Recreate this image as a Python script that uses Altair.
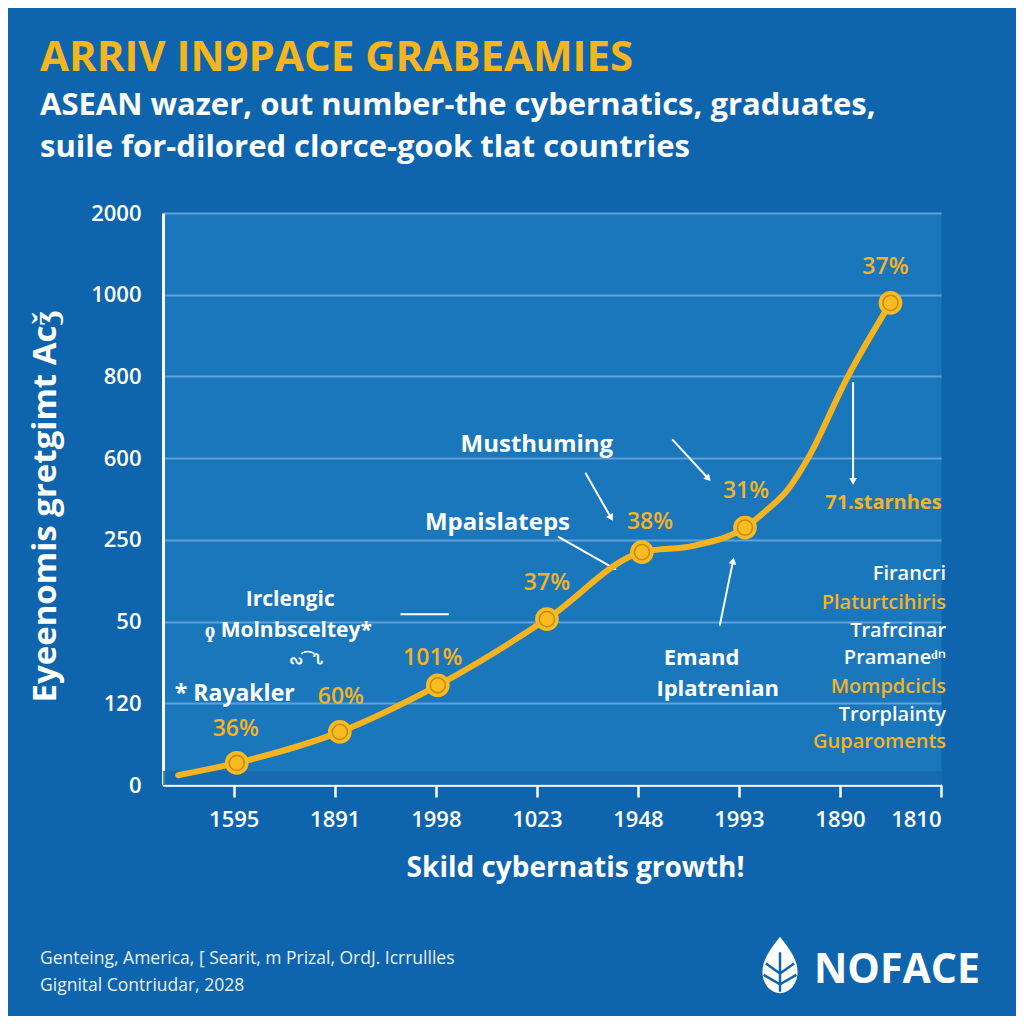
import math
import altair as alt
import pandas as pd

# ---------------- data ----------------
x_tick_labels = ["1595", "1891", "1998", "1023", "1948", "1993", "1890", "1810"]
y_tick_labels = ["0", "120", "50", "250", "600", "800", "1000", "2000"]

# line (x in tick-index units, y in gridline units)
line_x = [-0.55, 0.03, 1.05, 2.02, 3.10, 4.04, 4.56, 5.06, 5.28, 5.48, 5.68, 6.07, 6.50]
line_y = [0.12, 0.27, 0.65, 1.22, 2.03, 2.85, 2.93, 3.15, 3.37, 3.61, 3.99, 4.98, 5.90]

marker_x = [0.03, 1.05, 2.02, 3.10, 4.04, 5.06, 6.50]
marker_y = [0.27, 0.65, 1.22, 2.03, 2.85, 3.15, 5.90]

pct_labels = ["36%", "60%", "101%", "37%", "38%", "31%", "37%"]
pct_x = [0.02, 1.06, 1.97, 3.10, 4.12, 5.07, 6.45]
pct_y = [0.68, 1.08, 1.55, 2.47, 3.22, 3.60, 6.34]

note_labels = ["Musthuming", "Mpaislateps", "Irclengic", "ϙ Molnbsceltey*", "* Rayakler",
               "Emand", "Iplatrenian", "71.starnhes", "ᔓ⁀ᔐ"]
note_x = [3.00, 2.61, 0.56, 0.54, 0.01, 4.63, 4.79, 6.43, 0.72]
note_y = [4.16, 3.21, 2.26, 1.88, 1.11, 1.56, 1.18, 3.45, 1.53]
note_colors = ["#ffffff", "#ffffff", "#ffffff", "#ffffff", "#ffffff",
               "#ffffff", "#ffffff", "#f4b323", "#ffffff"]
note_sizes = [24, 24, 21, 21, 23, 22, 22, 20, 14]

list_labels = ["Firancri", "Platurtcihiris", "Trafrcinar", "Pramane\u1d48\u207f",
               "Mompdcicls", "Trorplainty", "Guparoments"]
list_y = [2.58, 2.23, 1.88, 1.55, 1.20, 0.86, 0.53]
list_colors = ["#ffffff", "#f4b323", "#ffffff", "#ffffff", "#f4b323", "#ffffff", "#f4b323"]
list_x_right = 7.05

arrow_x1 = [4.34, 3.48, 3.21, 4.81, 6.13]
arrow_y1 = [4.23, 3.82, 3.04, 1.95, 4.93]
arrow_x2 = [4.69, 3.73, 3.75, 4.94, 6.13]
arrow_y2 = [3.76, 3.28, 2.66, 2.73, 3.73]

dash_x1, dash_x2, dash_y = [1.65], [2.13], [2.09]

# ---------------- layout constants ----------------
W, H = 778, 572
X_DOM = [-0.70, 7.0]
Y_DOM = [0, 7]
PX_X = W / (X_DOM[1] - X_DOM[0])
PX_Y = H / (Y_DOM[1] - Y_DOM[0])

BG = "#0f65ad"
PLOT = "#1a77bc"
YELLOW = "#f5b51c"
LINE = "#f5b320"
GRID = "#5ea2d9"
FONT = "Open Sans"

x_expr = "[" + ",".join(f"'{t}'" for t in x_tick_labels) + "][datum.value]"
y_expr = "[" + ",".join(f"'{t}'" for t in y_tick_labels) + "][datum.value]"

xscale = alt.Scale(domain=X_DOM, nice=False, zero=False)
yscale = alt.Scale(domain=Y_DOM, nice=False, zero=False)

x_axis = alt.Axis(values=list(range(8)), labelExpr=x_expr, grid=False,
                  domainColor="white", domainWidth=2.5, tickColor="white",
                  tickWidth=2.5, tickSize=12, labelColor="white", labelFontSize=22,
                  labelFont=FONT, labelFontWeight=600, labelPadding=12,
                  title="Skild cybernatis growth!", titleFont=FONT, titleFontSize=28,
                  titleFontWeight="bold", titleColor="white", titleX=412, titleY=83,
                  titleAlign="center", titleBaseline="middle")
y_axis = alt.Axis(values=list(range(8)), labelExpr=y_expr, grid=True, gridColor=GRID,
                  gridWidth=2, domainColor="white", domainWidth=3, ticks=False,
                  labelColor="white", labelFontSize=22, labelFont=FONT,
                  labelFontWeight=600, labelPadding=22,
                  title="Eyeenomis gretgimt Acǯ", titleFont=FONT, titleFontSize=33,
                  titleFontWeight="bold", titleColor="white", titleAngle=270,
                  titleX=-118, titleY=293, titleAlign="center", titleBaseline="middle")

# ---------------- frames ----------------
line_df = pd.DataFrame({"x": line_x, "y": line_y})
mark_df = pd.DataFrame({"x": marker_x, "y": marker_y})
pct_df = pd.DataFrame({"x": pct_x, "y": pct_y, "t": pct_labels})
note_df = pd.DataFrame({"x": note_x, "y": note_y, "t": note_labels,
                        "c": note_colors, "s": note_sizes})
list_df = pd.DataFrame({"x": [list_x_right] * len(list_labels), "y": list_y,
                        "t": list_labels, "c": list_colors})
arr_df = pd.DataFrame({"x": arrow_x1, "y": arrow_y1, "x2": arrow_x2, "y2": arrow_y2})
arr_df["angle"] = [
    (math.degrees(math.atan2((b - a) * PX_X, (d - c) * PX_Y)) + 360) % 360
    for a, b, c, d in zip(arrow_x1, arrow_x2, arrow_y1, arrow_y2)
]
dash_df = pd.DataFrame({"x": dash_x1, "x2": dash_x2, "y": dash_y})
band_df = pd.DataFrame({"x": [X_DOM[0]], "x2": [X_DOM[1]], "y": [0.0], "y2": [0.17]})
one = pd.DataFrame({"a": [0]})


def X(f="x"):
    return alt.X(f"{f}:Q", scale=xscale)


def Y(f="y"):
    return alt.Y(f"{f}:Q", scale=yscale)


band = alt.Chart(band_df).mark_rect(color="#1567ab", opacity=0.8).encode(
    x=alt.X("x:Q", scale=xscale, axis=x_axis),
    x2="x2:Q",
    y=alt.Y("y:Q", scale=yscale, axis=y_axis),
    y2="y2:Q",
)

line = alt.Chart(line_df).mark_line(color=LINE, strokeWidth=6, interpolate="monotone",
                                    strokeCap="round").encode(x=X(), y=Y())

outer = alt.Chart(mark_df).mark_point(filled=True, color="#f9bb22", size=560,
                                      opacity=1).encode(x=X(), y=Y())
ring = alt.Chart(mark_df).mark_point(filled=False, color="#c98a10", size=230,
                                     strokeWidth=1.6, opacity=1).encode(x=X(), y=Y())

pct = alt.Chart(pct_df).mark_text(font=FONT, fontSize=23, fontWeight=600, color="#f4b323",
                                  baseline="middle", align="center").encode(
    x=X(), y=Y(), text="t:N")

notes = alt.Chart(note_df).mark_text(font=FONT, fontWeight="bold", baseline="middle",
                                     align="center").encode(
    x=X(), y=Y(), text="t:N",
    color=alt.Color("c:N", scale=None),
    size=alt.Size("s:Q", scale=None))

lst = alt.Chart(list_df).mark_text(font=FONT, fontWeight=600, fontSize=20,
                                   baseline="middle", align="right").encode(
    x=X(), y=Y(), text="t:N", color=alt.Color("c:N", scale=None))

arrows = alt.Chart(arr_df).mark_rule(color="white", strokeWidth=2).encode(
    x=X(), y=Y(), x2="x2:Q", y2="y2:Q")
heads = alt.Chart(arr_df).mark_point(shape="triangle", filled=True, color="white",
                                     size=60, opacity=1).encode(
    x=X("x2"), y=Y("y2"), angle=alt.Angle("angle:Q", scale=None))
dash = alt.Chart(dash_df).mark_rule(color="white", strokeWidth=2).encode(
    x=X(), x2="x2:Q", y=Y())

title = alt.Chart(one).mark_text(text="ARRIV IN9PACE GRABEAMIES", font=FONT, fontSize=42,
                                 fontWeight="bold", color=YELLOW, align="left",
                                 baseline="alphabetic").encode(
    x=alt.value(-123), y=alt.value(-142))
sub1 = alt.Chart(one).mark_text(text="ASEAN wazer, out number-the cybernatics, graduates,",
                                font=FONT, fontSize=31, fontWeight="bold", color="white",
                                align="left", baseline="alphabetic").encode(
    x=alt.value(-123), y=alt.value(-98))
sub2 = alt.Chart(one).mark_text(text="suile for-dilored clorce-gook tlat countries",
                                font=FONT, fontSize=31, fontWeight="bold", color="white",
                                align="left", baseline="alphabetic").encode(
    x=alt.value(-123), y=alt.value(-56))
foot1 = alt.Chart(one).mark_text(text="Genteing, America, [ Searit, m Prizal, OrdJ. Icrrullles",
                                 font=FONT, fontSize=17.5, color="#e8f0f8", align="left",
                                 baseline="alphabetic").encode(
    x=alt.value(-123), y=alt.value(751))
foot2 = alt.Chart(one).mark_text(text="Gignital Contriudar, 2028", font=FONT, fontSize=17.5,
                                 color="#e8f0f8", align="left", baseline="alphabetic").encode(
    x=alt.value(-123), y=alt.value(778))
brand = alt.Chart(one).mark_text(text="NOFACE", font=FONT, fontSize=41, fontWeight="bold",
                                 color="white", align="left", baseline="alphabetic").encode(
    x=alt.value(651), y=alt.value(770))
LEAF = ("M0,-1 C0.35,-0.55 0.62,-0.2 0.62,0.25 C0.62,0.7 0.3,1 0,1 "
        "C-0.3,1 -0.62,0.7 -0.62,0.25 C-0.62,-0.2 -0.35,-0.55 0,-1 Z")
VEINS = ("M0,-0.45 L0,0.95 M-0.5,-0.05 L0,0.3 L0.5,-0.05 "
         "M-0.58,0.35 L0,0.68 L0.58,0.35")
leaf = alt.Chart(one).mark_point(shape=LEAF, filled=True, color="white", size=3200,
                                 opacity=1).encode(x=alt.value(617), y=alt.value(752))
veins = alt.Chart(one).mark_point(shape=VEINS, filled=False, color=BG, size=3200,
                                  strokeWidth=2.5, opacity=1).encode(
    x=alt.value(617), y=alt.value(752))

chart = alt.layer(
    band, arrows, dash, heads, line, outer, ring, pct, notes, lst,
    title, sub1, sub2, foot1, foot2, brand, leaf, veins
).properties(
    width=W, height=H,
    autosize=alt.AutoSizeParams(type="none"),
    padding={"left": 155, "top": 205, "right": 75, "bottom": 231},
    background=BG,
).configure_view(fill=PLOT, stroke="transparent")

chart.save("out.html", embed_options={"renderer": "svg", "actions": False})
